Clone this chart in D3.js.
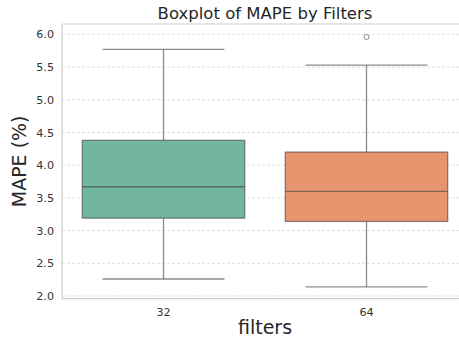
<!DOCTYPE html>
<html><head><meta charset="utf-8">
<script src="https://cdn.jsdelivr.net/npm/d3@7"></script>
<style>body{margin:0;background:#fff;} svg{display:block;}</style>
</head><body>
<script>
const categories = ["32", "64"];
const q1 = [3.19, 3.14];
const medians = [3.67, 3.60];
const q3 = [4.38, 4.20];
const whiskerLow = [2.26, 2.14];
const whiskerHigh = [5.77, 5.53];
const outliers = [[], [5.96]];
const colors = ["#72b6a1", "#e8956f"];
const yTicks = [2.0, 2.5, 3.0, 3.5, 4.0, 4.5, 5.0, 5.5, 6.0];

const W = 459, H = 343;
const m = {left: 62, top: 24, right: 468, bottom: 298.7};
const svg = d3.select("body").append("svg").attr("width", W).attr("height", H)
  .style("font-family", "'DejaVu Sans', sans-serif");

const x = d3.scaleBand().domain(categories).range([m.left, m.right]).paddingInner(0).paddingOuter(0);
const y = d3.scaleLinear().domain([1.959, 6.158]).range([m.bottom, m.top]);

// grid
svg.append("g").selectAll("line").data(yTicks).join("line")
  .attr("x1", m.left).attr("x2", m.right)
  .attr("y1", d => y(d)).attr("y2", d => y(d))
  .attr("stroke", "#d5d5d5").attr("stroke-width", 0.8).attr("stroke-dasharray", "3,2");

// spines
const sp = svg.append("g").attr("stroke", "#cccccc").attr("stroke-width", 1.2).attr("fill", "none");
sp.append("line").attr("x1", m.left).attr("x2", m.left).attr("y1", m.top).attr("y2", m.bottom);
sp.append("line").attr("x1", m.left).attr("x2", m.right).attr("y1", m.bottom).attr("y2", m.bottom);
sp.append("line").attr("x1", m.left).attr("x2", m.right).attr("y1", m.top).attr("y2", m.top);

// axes
const yAxis = d3.axisLeft(y).tickValues(yTicks).tickFormat(d3.format(".1f")).tickSize(0).tickPadding(8);
const gy = svg.append("g").attr("transform", `translate(${m.left},0)`).call(yAxis);
gy.select(".domain").remove();
gy.selectAll("text").attr("font-size", 11.2).attr("fill", "#333").attr("font-family", "'DejaVu Sans', sans-serif");

const xAxis = d3.axisBottom(x).tickSize(0).tickPadding(9);
const gx = svg.append("g").attr("transform", `translate(0,${m.bottom})`).call(xAxis);
gx.select(".domain").remove();
gx.selectAll("text").attr("font-size", 11.2).attr("fill", "#333").attr("font-family", "'DejaVu Sans', sans-serif");

// boxes
const lineCol = "rgba(70,70,70,0.62)";
const bw = x.bandwidth() * 0.8;
categories.forEach((c, i) => {
  const cx = x(c) + x.bandwidth() / 2;
  const g = svg.append("g");
  g.append("line").attr("x1", cx).attr("x2", cx).attr("y1", y(q3[i])).attr("y2", y(whiskerHigh[i]))
    .attr("stroke", lineCol).attr("stroke-width", 1.3);
  g.append("line").attr("x1", cx).attr("x2", cx).attr("y1", y(q1[i])).attr("y2", y(whiskerLow[i]))
    .attr("stroke", lineCol).attr("stroke-width", 1.3);
  g.append("line").attr("x1", cx - bw * 0.375).attr("x2", cx + bw * 0.375)
    .attr("y1", y(whiskerHigh[i])).attr("y2", y(whiskerHigh[i])).attr("stroke", lineCol).attr("stroke-width", 1.3);
  g.append("line").attr("x1", cx - bw * 0.375).attr("x2", cx + bw * 0.375)
    .attr("y1", y(whiskerLow[i])).attr("y2", y(whiskerLow[i])).attr("stroke", lineCol).attr("stroke-width", 1.3);
  g.append("rect").attr("x", cx - bw / 2).attr("width", bw)
    .attr("y", y(q3[i])).attr("height", y(q1[i]) - y(q3[i]))
    .attr("fill", colors[i]).attr("stroke", lineCol).attr("stroke-width", 1.3);
  g.append("line").attr("x1", cx - bw / 2).attr("x2", cx + bw / 2)
    .attr("y1", y(medians[i])).attr("y2", y(medians[i])).attr("stroke", lineCol).attr("stroke-width", 1.3);
  g.selectAll("circle").data(outliers[i]).join("circle")
    .attr("cx", cx).attr("cy", d => y(d)).attr("r", 2.5)
    .attr("fill", "none").attr("stroke", lineCol).attr("stroke-width", 1);
});

// title & labels
const cxAxes = (m.left + m.right) / 2;
svg.append("text").attr("x", cxAxes).attr("y", 19).attr("text-anchor", "middle")
  .attr("font-size", 16.5).attr("fill", "#262626").text("Boxplot of MAPE by Filters");
svg.append("text").attr("x", cxAxes).attr("y", 334).attr("text-anchor", "middle")
  .attr("font-size", 19).attr("fill", "#262626").text("filters");
svg.append("text").attr("transform", `translate(26,${(m.top + m.bottom) / 2}) rotate(-90)`)
  .attr("text-anchor", "middle").attr("font-size", 19).attr("fill", "#262626").text("MAPE (%)");
</script>
</body></html>
